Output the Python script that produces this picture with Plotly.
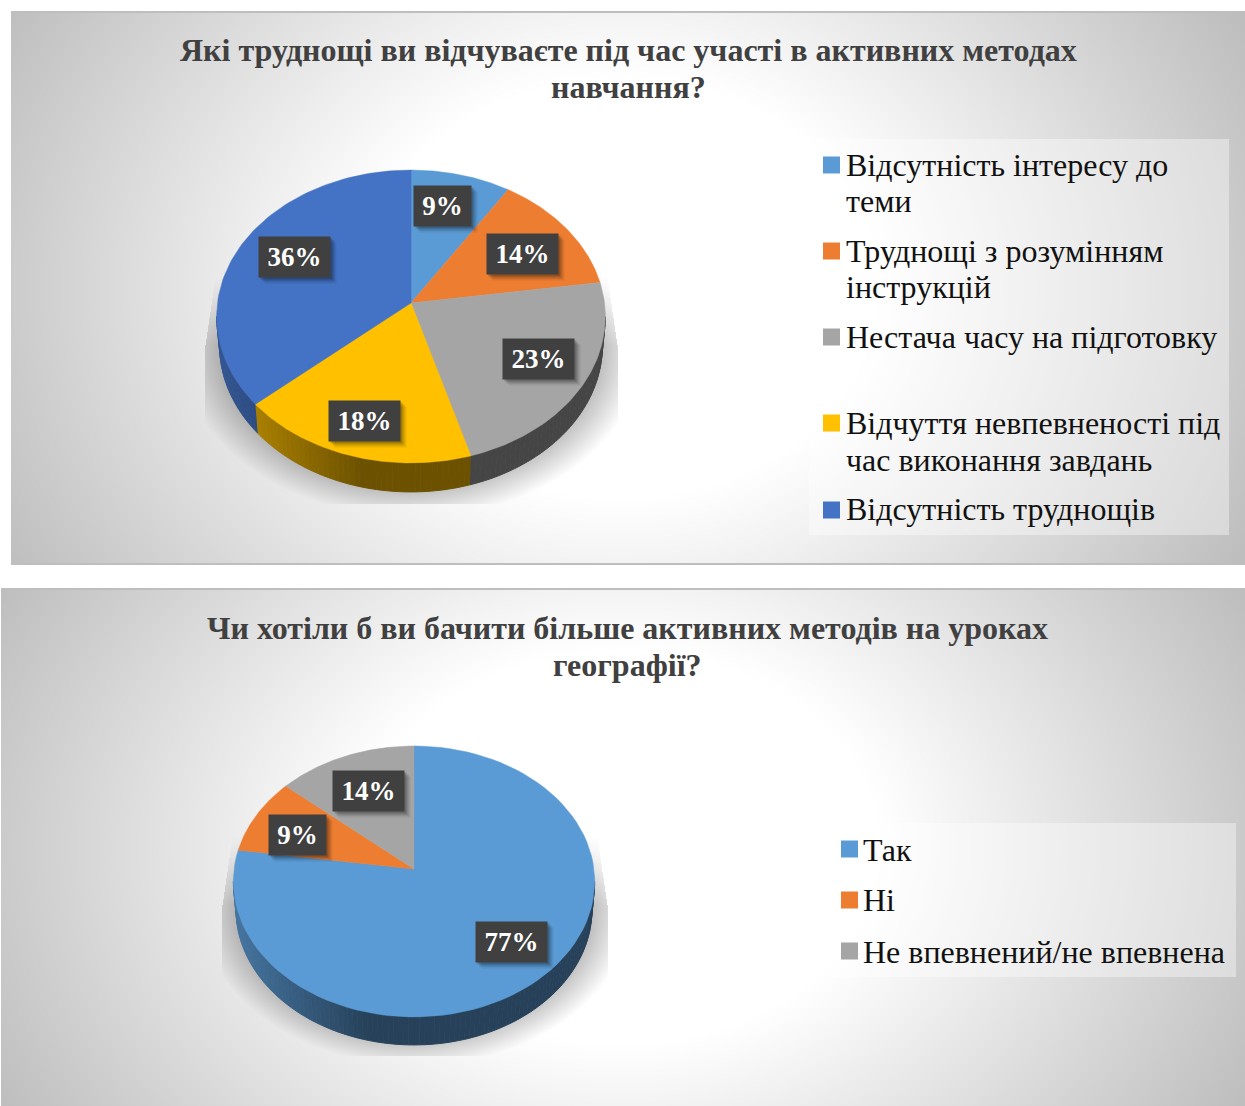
import base64, struct, zlib
import numpy as np
import plotly.graph_objects as go

# ---------- data ----------
TITLE_A = ["Які труднощі ви відчуваєте під час участі в активних методах", "навчання?"]
CATEGORIES_A = [["Відсутність інтересу до", "теми"], ["Труднощі з розумінням", "інструкцій"],
                ["Нестача часу на підготовку"], ["Відчуття невпевненості під", "час виконання завдань"],
                ["Відсутність труднощів"]]
COUNTS_A = [2, 3, 5, 4, 8]
COLORS_A = ["#5b9bd5", "#ed7d31", "#a5a5a5", "#ffc000", "#4472c4"]

TITLE_B = ["Чи хотіли б ви бачити більше активних методів на уроках", "географії?"]
CATEGORIES_B = [["Так"], ["Ні"], ["Не впевнений/не впевнена"]]
COUNTS_B = [17, 2, 3]
COLORS_B = ["#5b9bd5", "#ed7d31", "#a5a5a5"]

# ---------- page geometry and styling ----------
W, H = 1245, 1106
SERIF = "Liberation Serif, Times New Roman, serif"
K = 0.0921  # perspective of the tilted disc

A = dict(panel=(11, 11, 1245, 565), apex=(411, 303), a=193.5, b=145.2, depth=29,
         shadow=(411, 345, 232, 172, 205, 617, 503), grad=(620, 288),
         label_xy=[(442.5, 206), (522.5, 254), (538, 359), (364, 421), (294, 257)],
         title_xy=(628, [50, 87]), legend_rect=(809, 139, 1229, 535),
         mark_x=831.5, text_x=846, mark_y=[165, 251, 337, 423, 510],
         rows=[[165, 201], [251, 287], [337], [423, 460], [509]])
B = dict(panel=(1, 588, 1245, 1106), apex=(414, 869), a=179.9, b=134.3, depth=28,
         shadow=(415, 905, 216, 160, 222, 607, 1055), grad=(620, 847),
         label_xy=[(511, 942), (297, 835), (368, 791)],
         title_xy=(627, [628, 665]), legend_rect=(826, 823, 1236, 977),
         mark_x=849.5, text_x=863, mark_y=[849, 900, 951],
         rows=[[850], [900], [952]])


def background():
    img = np.full((H, W), 255.0)
    yy, xx = np.mgrid[0:H, 0:W]
    for c in (A, B):
        x0, y0, x1, y1 = c["panel"]
        cx, cy = c["grad"]
        t = np.hypot((xx - cx) / ((x1 - x0) * 0.5), (yy - cy) / ((y1 - y0) * 0.5) * 0.55)
        v = 255 - np.clip((t - 0.42) / 0.72, 0, 1) * 65
        sx, sy, srx, sry, bx0, bx1, by1 = c["shadow"]
        d = np.hypot((xx - sx) / srx, (yy - sy) / sry)
        alpha = 0.28 * np.clip((1.0 - d) / 0.2, 0, 1)
        inset = np.clip((sy - yy) / 95, 0, 1) * 14
        alpha *= np.clip((yy - (sy - 70)) / 70, 0, 1)
        alpha *= ((xx >= bx0 + inset) & (xx <= bx1 - inset) & (yy <= by1))
        v = v * (1 - alpha)
        m = (xx >= x0) & (xx < x1) & (yy >= y0) & (yy < y1)
        img[m] = v[m]
        img[y0:y0 + 2, x0:x1] = 190
        if y1 < H:
            img[y1 - 2:y1, x0:x1] = 190
    raw = b"".join(b"\x00" + r.tobytes() for r in img.astype(np.uint8))

    def chunk(tag, data):
        return struct.pack(">I", len(data)) + tag + data + struct.pack(">I", zlib.crc32(tag + data))
    png = b"\x89PNG\r\n\x1a\n" + chunk(b"IHDR", struct.pack(">IIBBBBB", W, H, 8, 0, 0, 0, 0)) \
        + chunk(b"IDAT", zlib.compress(raw, 9)) + chunk(b"IEND", b"")
    return "data:image/png;base64," + base64.b64encode(png).decode()


def project(theta, c, scale=1.0):
    u, v = np.sin(theta), np.cos(theta)
    den = 1 + K * v
    return c["a"] * scale * u / den, c["b"] * v / den


def shade(hexcol, f):
    r, g, b = (int(hexcol[i:i + 2], 16) for i in (1, 3, 5))
    return f"rgb({r * f:.0f},{g * f:.0f},{b * f:.0f})"


fig = go.Figure()


def add_pie(c, counts, colors, cats, title, suffix):
    xa, ya = f"x{suffix}", f"y{suffix}"
    ax, ay = c["apex"]
    fr = np.cumsum([0] + counts) / sum(counts) * 2 * np.pi
    lo, hi = np.arccos(-K), 2 * np.pi - np.arccos(-K)
    # side wall, from the front-facing part of every slice
    for s, col in enumerate(colors):
        t0, t1 = max(fr[s], lo), min(fr[s + 1], hi)
        if t1 <= t0:
            continue
        n = max(1, int((t1 - t0) / np.radians(1.5)))
        edges = np.linspace(t0, t1, n + 1)
        for e0, e1 in zip(edges[:-1], edges[1:]):
            ts = np.linspace(e0, e1, 3)
            xt, yt = project(ts, c)
            xb, yb = project(ts[::-1], c, 0.985)
            nx = xt.mean() / c["a"]
            f = 0.42 + 0.33 * np.clip((-0.25 - nx) / 0.75, 0, 1)
            fc = shade(col, f)
            fig.add_trace(go.Scatter(x=np.r_[xt, xb], y=np.r_[yt, yb - c["depth"]], mode="lines",
                                     fill="toself", fillcolor=fc, line=dict(color=fc, width=1),
                                     hoverinfo="skip", showlegend=False, xaxis=xa, yaxis=ya))
    # top faces
    for s, col in enumerate(colors):
        ts = np.linspace(fr[s], fr[s + 1], 90)
        xt, yt = project(ts, c)
        fig.add_trace(go.Scatter(x=np.r_[0, xt, 0], y=np.r_[0, yt, 0], mode="lines", fill="toself",
                                 fillcolor=col, line=dict(color=col, width=0.5),
                                 name=" ".join(cats[s]), hoverinfo="name", showlegend=False, xaxis=xa, yaxis=ya))
    # percentage labels
    total = sum(counts)
    for s, (lx, ly) in enumerate(c["label_xy"]):
        txt = f"{round(counts[s] / total * 100)}%"
        w = 57 if len(txt) == 2 else 71
        px, py = lx - ax, ay - ly
        for dx, op in ((6, 0.08), (4, 0.14), (2, 0.2)):
            fig.add_annotation(x=px, y=py, xref=xa, yref=ya, text=" ", showarrow=False, width=w, height=40,
                               bgcolor=f"rgba(0,0,0,{op})", xshift=dx, yshift=-dx, borderpad=0)
        fig.add_annotation(x=px, y=py, xref=xa, yref=ya, text=f"<b>{txt}</b>", showarrow=False, width=w,
                           height=40, bgcolor="#404040", borderpad=0, align="center", valign="middle",
                           font=dict(family=SERIF, size=27, color="white"))
    # key: square swatches on the axes, one text line per wrapped row
    for s, col in enumerate(colors):
        fig.add_trace(go.Scatter(x=[c["mark_x"] - ax], y=[ay - c["mark_y"][s]], mode="markers",
                                 name=" ".join(cats[s]), showlegend=False, xaxis=xa, yaxis=ya,
                                 marker=dict(symbol="square", size=17, color=col, line_width=0)))
        for line, row in zip(cats[s], c["rows"][s]):
            fig.add_annotation(x=c["text_x"] - ax, y=ay - row, xref=xa, yref=ya, text=line, showarrow=False,
                               xanchor="left", yanchor="middle", xshift=-1, borderpad=0,
                               font=dict(family=SERIF, size=32, color="#111111"))
    # title, one annotation per line
    tx, tys = c["title_xy"]
    for line, ty in zip(title, tys):
        fig.add_annotation(x=tx - ax, y=ay - ty, xref=xa, yref=ya, text=f"<b>{line}</b>", showarrow=False,
                           xanchor="center", yanchor="middle", borderpad=0,
                           font=dict(family=SERIF, size=32, color="#404040"))


add_pie(A, COUNTS_A, COLORS_A, CATEGORIES_A, TITLE_A, "")
add_pie(B, COUNTS_B, COLORS_B, CATEGORIES_B, TITLE_B, "2")


def axes(c):
    x0, y0, x1, y1 = c["panel"]
    ax, ay = c["apex"]
    common = dict(visible=False, showgrid=False, zeroline=False, fixedrange=True)
    return (dict(domain=[x0 / W, x1 / W], range=[x0 - ax, x1 - ax], **common),
            dict(domain=[1 - y1 / H, 1 - y0 / H], range=[ay - y1, ay - y0], **common))


xa1, ya1 = axes(A)
xa2, ya2 = axes(B)


def rect(c):
    x0, y0, x1, y1 = c["legend_rect"]
    return dict(type="rect", xref="paper", yref="paper", x0=x0 / W, x1=x1 / W, y0=1 - y1 / H, y1=1 - y0 / H,
                fillcolor="rgba(255,255,255,0.38)", line_width=0, layer="below")


fig.update_layout(width=W, height=H, margin=dict(l=0, r=0, t=0, b=0, pad=0), autosize=False,
                  paper_bgcolor="white", plot_bgcolor="rgba(0,0,0,0)", hovermode="closest", showlegend=False,
                  xaxis=xa1, yaxis=ya1, xaxis2=xa2, yaxis2=ya2, shapes=[rect(A), rect(B)],
                  images=[dict(source=background(), xref="paper", yref="paper", x=0, y=1, sizex=1, sizey=1,
                               xanchor="left", yanchor="top", sizing="stretch", layer="below")])

fig.write_html("out.html", config={"displayModeBar": False},
               post_script="document.body.style.margin='0';document.body.style.overflow='hidden';")
